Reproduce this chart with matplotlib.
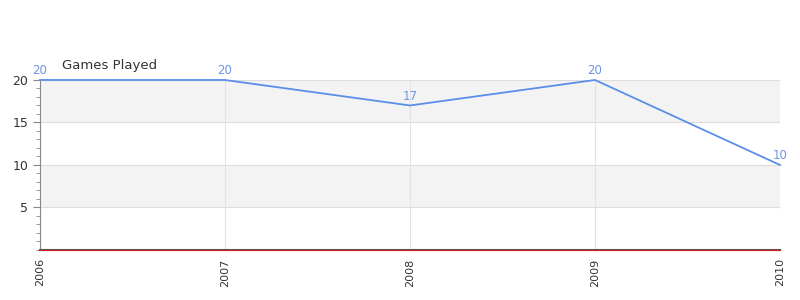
import matplotlib.pyplot as plt
from matplotlib.ticker import MultipleLocator

years = ["2006", "2007", "2008", "2009", "2010"]
games = [20, 20, 17, 20, 10]

fig = plt.figure(figsize=(8, 3), dpi=100)
ax = fig.add_axes([0.05, 0.1667, 0.925, 0.5667])

x = list(range(len(years)))
ax.set_xlim(0, len(years) - 1)
ax.set_ylim(0, 20)

# alternating bands
for lo, hi in [(5, 10), (15, 20)]:
    ax.axhspan(lo, hi, color="#f3f3f3", zorder=0, lw=0)
for y in [5, 10, 15, 20]:
    ax.axhline(y, color="#dddddd", lw=0.8, zorder=1)
for xi in x:
    ax.axvline(xi, color="#e2e2e2", lw=0.8, zorder=1)

ax.plot(x, games, color="#5b8ee8", lw=1.3, zorder=3, clip_on=False)
for xi, v in zip(x, games):
    ax.annotate(str(v), (xi, v), xytext=(0, 2), textcoords="offset points",
                ha="center", va="bottom", color="#6c96e0", fontsize=8.5,
                annotation_clip=False)

ax.axhline(0, color="#d62020", lw=0.8, zorder=4, clip_on=False)

ax.set_xticks(x)
ax.set_xticklabels(years, rotation=90, fontsize=8, color="#333333")
ax.set_yticks([5, 10, 15, 20])
ax.yaxis.set_minor_locator(MultipleLocator(1))
ax.tick_params(axis="y", labelsize=9, colors="#333333", length=5, color="#888888")
ax.tick_params(axis="y", which="minor", length=3, color="#888888")
ax.tick_params(axis="x", length=0, pad=6)

for s in ["top", "right"]:
    ax.spines[s].set_visible(False)
ax.spines["left"].set_color("#888888")
ax.spines["bottom"].set_color("#555555")
ax.spines["bottom"].set_linewidth(1.5)

fig.text(62 / 800, 1 - 66 / 300, "Games Played", fontsize=9.5, color="#333333",
         ha="left", va="center")

fig.savefig("out.png", dpi=100)
